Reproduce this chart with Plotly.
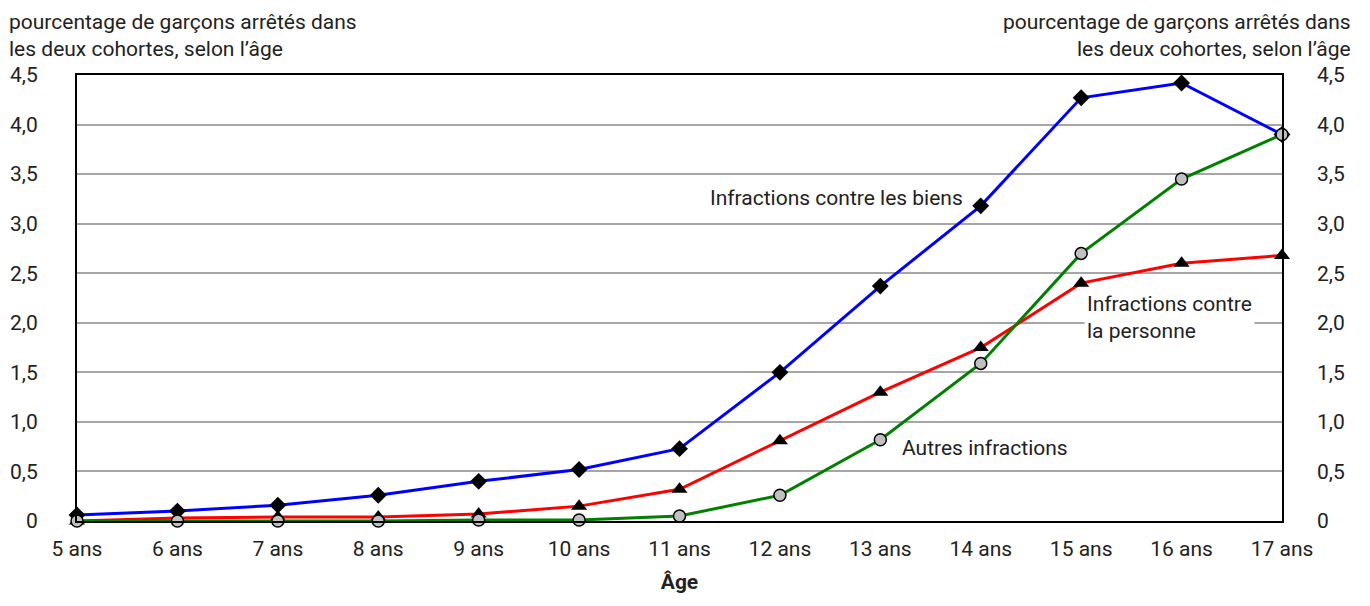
import plotly.graph_objects as go

ages = [5, 6, 7, 8, 9, 10, 11, 12, 13, 14, 15, 16, 17]
age_labels = [f"{a} ans" for a in ages]
biens = [0.06, 0.10, 0.16, 0.26, 0.40, 0.52, 0.73, 1.50, 2.37, 3.18, 4.27, 4.42, 3.90]
personne = [0.00, 0.03, 0.04, 0.04, 0.07, 0.15, 0.32, 0.81, 1.30, 1.75, 2.40, 2.60, 2.68]
autres = [0.00, 0.00, 0.00, 0.00, 0.01, 0.01, 0.05, 0.26, 0.82, 1.59, 2.70, 3.45, 3.90]
y_ticks = [0, 0.5, 1, 1.5, 2, 2.5, 3, 3.5, 4, 4.5]
y_labels = ["0", "0,5", "1,0", "1,5", "2,0", "2,5", "3,0", "3,5", "4,0", "4,5"]
axis_title = "pourcentage de garçons arrêtés dans<br>les deux cohortes, selon l’âge"

FONT = "Roboto, Arial, sans-serif"
TXT = "#222222"
FS = 21

fig = go.Figure()
fig.add_trace(go.Scatter(x=ages, y=biens, mode="lines+markers", name="Infractions contre les biens",
                         line=dict(color="#0000ff", width=3),
                         marker=dict(symbol="diamond", size=13, color="black"),
                         cliponaxis=False))
fig.add_trace(go.Scatter(x=ages, y=personne, mode="lines+markers", name="Infractions contre la personne",
                         line=dict(color="#ff0000", width=3),
                         marker=dict(symbol="triangle-up", size=14, color="black"),
                         cliponaxis=False))
fig.add_trace(go.Scatter(x=ages, y=autres, mode="lines+markers", name="Autres infractions",
                         line=dict(color="#008000", width=3),
                         marker=dict(symbol="circle", size=12, color="#c0c0c0",
                                     line=dict(color="black", width=1.5)),
                         cliponaxis=False))
# invisible trace to activate the right axis
fig.add_trace(go.Scatter(x=[ages[0]], y=[0], yaxis="y2", mode="markers",
                         marker=dict(opacity=0), showlegend=False, hoverinfo="skip"))

fig.update_layout(
    width=1354, height=590,
    margin=dict(l=69, r=80, t=67, b=77),
    paper_bgcolor="white", plot_bgcolor="white",
    showlegend=False,
    font=dict(family=FONT, size=FS, color=TXT),
    xaxis=dict(range=[5, 17], tickvals=ages, ticktext=age_labels, automargin=False,
               showline=True, linecolor="black", linewidth=2, mirror=True,
               showgrid=False, zeroline=False, ticks="", ticklabelstandoff=8,
               tickfont=dict(size=FS, color=TXT),
               title=dict(text="<b>Âge</b>", font=dict(size=FS, color=TXT), standoff=14)),
    yaxis=dict(range=[0, 4.5], tickvals=y_ticks, ticktext=y_labels, automargin=False,
               showline=True, linecolor="black", linewidth=2, mirror=True,
               showgrid=True, gridcolor="#a6a6a6", gridwidth=2, zeroline=False,
               ticks="", ticklabelstandoff=33, tickfont=dict(size=FS, color=TXT)),
    yaxis2=dict(range=[0, 4.5], tickvals=y_ticks, ticktext=y_labels, overlaying="y",
                automargin=False, side="right", showgrid=False, zeroline=False, showline=False,
                ticks="", ticklabelstandoff=34, tickfont=dict(size=FS, color=TXT)),
)

ytop = 1 + (75 - 9) / 446
fig.add_annotation(xref="paper", yref="paper", x=(8 - 77) / 1205, y=ytop,
                   xanchor="left", yanchor="top", text=axis_title, borderpad=0,
                   showarrow=False, align="left", font=dict(size=FS, color=TXT))
fig.add_annotation(xref="paper", yref="paper", x=(1352 - 77) / 1205, y=ytop,
                   xanchor="right", yanchor="top", text=axis_title, borderpad=0,
                   showarrow=False, align="right", font=dict(size=FS, color=TXT))

fig.add_annotation(x=13.84, y=3.26, xanchor="right", yanchor="middle", text="Infractions contre les biens",
                   showarrow=False, font=dict(size=FS, color=TXT))
fig.add_annotation(x=15.03, y=2.05, xanchor="left", yanchor="middle",
                   text="Infractions contre<br>la personne", align="left", borderpad=2,
                   showarrow=False, bgcolor="white", font=dict(size=FS, color=TXT))
fig.add_annotation(x=13.2, y=0.74, xanchor="left", yanchor="middle", text="Autres infractions",
                   showarrow=False, font=dict(size=FS, color=TXT))

fig.write_html("out.html")
